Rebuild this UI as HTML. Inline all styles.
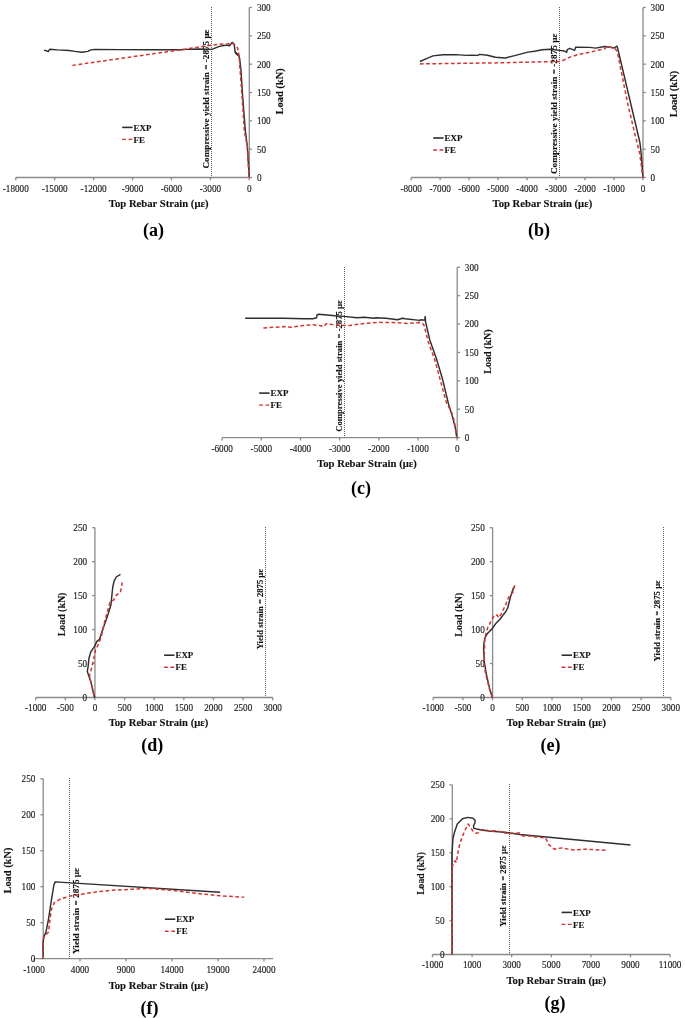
<!DOCTYPE html>
<html><head><meta charset="utf-8"><title>Figure</title>
<style>
html,body{margin:0;padding:0;background:#fff;width:685px;height:1018px;overflow:hidden}
svg{display:block;will-change:transform}
text{font-family:"Liberation Serif",serif}
</style></head><body>
<svg width="685" height="1018" viewBox="0 0 685 1018">
<rect width="685" height="1018" fill="#fff"/>
<g>
<line x1="15.75" y1="177.5" x2="249.3" y2="177.5" stroke="#8a8a8a" stroke-width="1.3"/>
<line x1="15.75" y1="177.5" x2="15.75" y2="180.3" stroke="#8a8a8a" stroke-width="1.3"/>
<text x="0" y="0" font-size="9.2" text-anchor="middle" fill="#222" stroke="#222" stroke-width="0.15" transform="translate(15.75 191.6) scale(1 1.05)">-18000</text>
<line x1="54.67" y1="177.5" x2="54.67" y2="180.3" stroke="#8a8a8a" stroke-width="1.3"/>
<text x="0" y="0" font-size="9.2" text-anchor="middle" fill="#222" stroke="#222" stroke-width="0.15" transform="translate(54.67 191.6) scale(1 1.05)">-15000</text>
<line x1="93.6" y1="177.5" x2="93.6" y2="180.3" stroke="#8a8a8a" stroke-width="1.3"/>
<text x="0" y="0" font-size="9.2" text-anchor="middle" fill="#222" stroke="#222" stroke-width="0.15" transform="translate(93.6 191.6) scale(1 1.05)">-12000</text>
<line x1="132.53" y1="177.5" x2="132.53" y2="180.3" stroke="#8a8a8a" stroke-width="1.3"/>
<text x="0" y="0" font-size="9.2" text-anchor="middle" fill="#222" stroke="#222" stroke-width="0.15" transform="translate(132.53 191.6) scale(1 1.05)">-9000</text>
<line x1="171.45" y1="177.5" x2="171.45" y2="180.3" stroke="#8a8a8a" stroke-width="1.3"/>
<text x="0" y="0" font-size="9.2" text-anchor="middle" fill="#222" stroke="#222" stroke-width="0.15" transform="translate(171.45 191.6) scale(1 1.05)">-6000</text>
<line x1="210.38" y1="177.5" x2="210.38" y2="180.3" stroke="#8a8a8a" stroke-width="1.3"/>
<text x="0" y="0" font-size="9.2" text-anchor="middle" fill="#222" stroke="#222" stroke-width="0.15" transform="translate(210.38 191.6) scale(1 1.05)">-3000</text>
<line x1="249.3" y1="177.5" x2="249.3" y2="180.3" stroke="#8a8a8a" stroke-width="1.3"/>
<text x="0" y="0" font-size="9.2" text-anchor="middle" fill="#222" stroke="#222" stroke-width="0.15" transform="translate(249.3 191.6) scale(1 1.05)">0</text>
<line x1="249.3" y1="177.5" x2="249.3" y2="7.5" stroke="#8a8a8a" stroke-width="1.3"/>
<line x1="249.3" y1="177.5" x2="252.1" y2="177.5" stroke="#8a8a8a" stroke-width="1.3"/>
<text x="0" y="0" font-size="9.2" text-anchor="start" fill="#222" stroke="#222" stroke-width="0.15" transform="translate(256.9 180.9) scale(1 1.05)">0</text>
<line x1="249.3" y1="149.17" x2="252.1" y2="149.17" stroke="#8a8a8a" stroke-width="1.3"/>
<text x="0" y="0" font-size="9.2" text-anchor="start" fill="#222" stroke="#222" stroke-width="0.15" transform="translate(256.9 152.57) scale(1 1.05)">50</text>
<line x1="249.3" y1="120.83" x2="252.1" y2="120.83" stroke="#8a8a8a" stroke-width="1.3"/>
<text x="0" y="0" font-size="9.2" text-anchor="start" fill="#222" stroke="#222" stroke-width="0.15" transform="translate(256.9 124.23) scale(1 1.05)">100</text>
<line x1="249.3" y1="92.5" x2="252.1" y2="92.5" stroke="#8a8a8a" stroke-width="1.3"/>
<text x="0" y="0" font-size="9.2" text-anchor="start" fill="#222" stroke="#222" stroke-width="0.15" transform="translate(256.9 95.9) scale(1 1.05)">150</text>
<line x1="249.3" y1="64.17" x2="252.1" y2="64.17" stroke="#8a8a8a" stroke-width="1.3"/>
<text x="0" y="0" font-size="9.2" text-anchor="start" fill="#222" stroke="#222" stroke-width="0.15" transform="translate(256.9 67.57) scale(1 1.05)">200</text>
<line x1="249.3" y1="35.83" x2="252.1" y2="35.83" stroke="#8a8a8a" stroke-width="1.3"/>
<text x="0" y="0" font-size="9.2" text-anchor="start" fill="#222" stroke="#222" stroke-width="0.15" transform="translate(256.9 39.23) scale(1 1.05)">250</text>
<line x1="249.3" y1="7.5" x2="252.1" y2="7.5" stroke="#8a8a8a" stroke-width="1.3"/>
<text x="0" y="0" font-size="9.2" text-anchor="start" fill="#222" stroke="#222" stroke-width="0.15" transform="translate(256.9 10.9) scale(1 1.05)">300</text>
<line x1="211.5" y1="7" x2="211.5" y2="177.5" stroke="#5a5a5a" stroke-width="1" stroke-dasharray="1 1"/>
<text x="158.7" y="206.9" font-size="10.67" text-anchor="middle" font-weight="bold" fill="#111" stroke="#111" stroke-width="0.12">Top Rebar Strain (&#956;&#949;)</text>
<text x="0" y="0" font-size="10.49" text-anchor="middle" font-weight="bold" fill="#111" stroke="#111" stroke-width="0.12" transform="translate(283.1 91.4) rotate(-90)">Load (kN)</text>
<text x="153.4" y="235.7" font-size="18" text-anchor="middle" font-weight="bold" fill="#000">(a)</text>
<text x="0" y="0" font-size="9.17" text-anchor="middle" font-weight="bold" fill="#111" stroke="#111" stroke-width="0.12" transform="translate(209 99) rotate(-90)">Compressive yield strain = -2875 &#956;&#949;</text>
<line x1="122.2" y1="127.4" x2="132.6" y2="127.4" stroke="#2e2e2e" stroke-width="1.6"/>
<line x1="122.2" y1="139.4" x2="132.6" y2="139.4" stroke="#d33432" stroke-width="1.35" stroke-dasharray="3.7 2.7"/>
<text x="0" y="0" font-size="8.9" text-anchor="start" font-weight="bold" fill="#111" stroke="#111" stroke-width="0.12" transform="translate(133.6 130.5) scale(1 1.02)">EXP</text>
<text x="0" y="0" font-size="8.9" text-anchor="start" font-weight="bold" fill="#111" stroke="#111" stroke-width="0.12" transform="translate(133.6 142.5) scale(1 1.02)">FE</text>
<path d="M44.1 50.3 L46.4 50.7 L48.2 51.7 L48.8 50.5 L49.9 49.3 L57.5 49.9 L69.2 50.5 L75 51.4 L82 52.3 L87.9 51.4 L90.8 49.9 L94.9 49.5 L120 49.6 L150 49.7 L180 49.8 L187 49.4 L197.5 49 L206.3 49.2 L211.5 49.4 L215 48.1 L219.4 46.4 L223.8 45.5 L228.2 45.1 L229 45.9 L230.4 44.6 L232.1 42.4 L233.4 43.3 L234.3 45.1 L235.2 52.5 L237.8 54.7 L236 53.5 L238.5 55.5 L239.5 57.8 L240.9 69.3 L242.9 100 L245.4 131.4 L247.4 147.2 L249.2 177.3" fill="none" stroke="#2e2e2e" stroke-width="1.45" stroke-linejoin="round" stroke-linecap="butt"/>
<path d="M234.6 50.4 L236.8 52.6 L238.8 55.4 L237.6 55.8 L235.6 54.2 Z" fill="#262626"/>
<path d="M72.4 65.4 L180 49.9 L206.3 46 L212.4 45.1 L219.4 44.2 L228.2 43.8 L231.7 43.3 L234.3 44.2 L236.9 46.4 L238.2 50.3 L239.3 56.9 L239.7 65.4 L241.2 85 L242.3 100 L244.4 131.4 L247.2 145.6 L249.2 177.3" fill="none" stroke="#d33432" stroke-width="1.5" stroke-linejoin="round" stroke-linecap="butt" stroke-dasharray="3.7 2.5"/>
<line x1="411.1" y1="177.5" x2="643" y2="177.5" stroke="#8a8a8a" stroke-width="1.3"/>
<line x1="411.1" y1="177.5" x2="411.1" y2="180.3" stroke="#8a8a8a" stroke-width="1.3"/>
<text x="0" y="0" font-size="9.2" text-anchor="middle" fill="#222" stroke="#222" stroke-width="0.15" transform="translate(411.1 191.6) scale(1 1.05)">-8000</text>
<line x1="440.09" y1="177.5" x2="440.09" y2="180.3" stroke="#8a8a8a" stroke-width="1.3"/>
<text x="0" y="0" font-size="9.2" text-anchor="middle" fill="#222" stroke="#222" stroke-width="0.15" transform="translate(440.09 191.6) scale(1 1.05)">-7000</text>
<line x1="469.08" y1="177.5" x2="469.08" y2="180.3" stroke="#8a8a8a" stroke-width="1.3"/>
<text x="0" y="0" font-size="9.2" text-anchor="middle" fill="#222" stroke="#222" stroke-width="0.15" transform="translate(469.08 191.6) scale(1 1.05)">-6000</text>
<line x1="498.06" y1="177.5" x2="498.06" y2="180.3" stroke="#8a8a8a" stroke-width="1.3"/>
<text x="0" y="0" font-size="9.2" text-anchor="middle" fill="#222" stroke="#222" stroke-width="0.15" transform="translate(498.06 191.6) scale(1 1.05)">-5000</text>
<line x1="527.05" y1="177.5" x2="527.05" y2="180.3" stroke="#8a8a8a" stroke-width="1.3"/>
<text x="0" y="0" font-size="9.2" text-anchor="middle" fill="#222" stroke="#222" stroke-width="0.15" transform="translate(527.05 191.6) scale(1 1.05)">-4000</text>
<line x1="556.04" y1="177.5" x2="556.04" y2="180.3" stroke="#8a8a8a" stroke-width="1.3"/>
<text x="0" y="0" font-size="9.2" text-anchor="middle" fill="#222" stroke="#222" stroke-width="0.15" transform="translate(556.04 191.6) scale(1 1.05)">-3000</text>
<line x1="585.02" y1="177.5" x2="585.02" y2="180.3" stroke="#8a8a8a" stroke-width="1.3"/>
<text x="0" y="0" font-size="9.2" text-anchor="middle" fill="#222" stroke="#222" stroke-width="0.15" transform="translate(585.02 191.6) scale(1 1.05)">-2000</text>
<line x1="614.01" y1="177.5" x2="614.01" y2="180.3" stroke="#8a8a8a" stroke-width="1.3"/>
<text x="0" y="0" font-size="9.2" text-anchor="middle" fill="#222" stroke="#222" stroke-width="0.15" transform="translate(614.01 191.6) scale(1 1.05)">-1000</text>
<line x1="643" y1="177.5" x2="643" y2="180.3" stroke="#8a8a8a" stroke-width="1.3"/>
<text x="0" y="0" font-size="9.2" text-anchor="middle" fill="#222" stroke="#222" stroke-width="0.15" transform="translate(643 191.6) scale(1 1.05)">0</text>
<line x1="643" y1="177.5" x2="643" y2="7.5" stroke="#8a8a8a" stroke-width="1.3"/>
<line x1="643" y1="177.5" x2="645.8" y2="177.5" stroke="#8a8a8a" stroke-width="1.3"/>
<text x="0" y="0" font-size="9.2" text-anchor="start" fill="#222" stroke="#222" stroke-width="0.15" transform="translate(650.6 180.9) scale(1 1.05)">0</text>
<line x1="643" y1="149.17" x2="645.8" y2="149.17" stroke="#8a8a8a" stroke-width="1.3"/>
<text x="0" y="0" font-size="9.2" text-anchor="start" fill="#222" stroke="#222" stroke-width="0.15" transform="translate(650.6 152.57) scale(1 1.05)">50</text>
<line x1="643" y1="120.83" x2="645.8" y2="120.83" stroke="#8a8a8a" stroke-width="1.3"/>
<text x="0" y="0" font-size="9.2" text-anchor="start" fill="#222" stroke="#222" stroke-width="0.15" transform="translate(650.6 124.23) scale(1 1.05)">100</text>
<line x1="643" y1="92.5" x2="645.8" y2="92.5" stroke="#8a8a8a" stroke-width="1.3"/>
<text x="0" y="0" font-size="9.2" text-anchor="start" fill="#222" stroke="#222" stroke-width="0.15" transform="translate(650.6 95.9) scale(1 1.05)">150</text>
<line x1="643" y1="64.17" x2="645.8" y2="64.17" stroke="#8a8a8a" stroke-width="1.3"/>
<text x="0" y="0" font-size="9.2" text-anchor="start" fill="#222" stroke="#222" stroke-width="0.15" transform="translate(650.6 67.57) scale(1 1.05)">200</text>
<line x1="643" y1="35.83" x2="645.8" y2="35.83" stroke="#8a8a8a" stroke-width="1.3"/>
<text x="0" y="0" font-size="9.2" text-anchor="start" fill="#222" stroke="#222" stroke-width="0.15" transform="translate(650.6 39.23) scale(1 1.05)">250</text>
<line x1="643" y1="7.5" x2="645.8" y2="7.5" stroke="#8a8a8a" stroke-width="1.3"/>
<text x="0" y="0" font-size="9.2" text-anchor="start" fill="#222" stroke="#222" stroke-width="0.15" transform="translate(650.6 10.9) scale(1 1.05)">300</text>
<line x1="559.5" y1="7" x2="559.5" y2="177.5" stroke="#5a5a5a" stroke-width="1" stroke-dasharray="1 1"/>
<text x="542.4" y="206.5" font-size="10.67" text-anchor="middle" font-weight="bold" fill="#111" stroke="#111" stroke-width="0.12">Top Rebar Strain (&#956;&#949;)</text>
<text x="0" y="0" font-size="10.58" text-anchor="middle" font-weight="bold" fill="#111" stroke="#111" stroke-width="0.12" transform="translate(677.4 94) rotate(-90)">Load (kN)</text>
<text x="538.9" y="235.7" font-size="18" text-anchor="middle" font-weight="bold" fill="#000">(b)</text>
<text x="0" y="0" font-size="9.25" text-anchor="middle" font-weight="bold" fill="#111" stroke="#111" stroke-width="0.12" transform="translate(556.6 103.9) rotate(-90)">Compressive yield strain = -2875 &#956;&#949;</text>
<line x1="433.2" y1="138" x2="443.6" y2="138" stroke="#2e2e2e" stroke-width="1.6"/>
<line x1="433.2" y1="150" x2="443.6" y2="150" stroke="#d33432" stroke-width="1.35" stroke-dasharray="3.7 2.7"/>
<text x="0" y="0" font-size="8.9" text-anchor="start" font-weight="bold" fill="#111" stroke="#111" stroke-width="0.12" transform="translate(444.6 141.1) scale(1 1.02)">EXP</text>
<text x="0" y="0" font-size="8.9" text-anchor="start" font-weight="bold" fill="#111" stroke="#111" stroke-width="0.12" transform="translate(444.6 153.1) scale(1 1.02)">FE</text>
<path d="M419.9 61.5 L427.1 58.3 L433 55.9 L442.9 54.7 L456 54.6 L466.5 55.4 L471.8 55.1 L477.7 55.4 L479.6 54.4 L487.5 55.2 L495.4 57.2 L505.5 58 L514.7 55.6 L527.9 52.1 L534.4 51.3 L542.3 49.7 L550.2 49.3 L559.4 50.4 L564.6 51 L566.6 52.3 L567.3 49.7 L569.9 48.4 L574.5 50.4 L575.8 47.1 L589.7 47.4 L595.6 48.1 L604.5 46.5 L610.4 47.2 L614 48 L617 46.2 L617.7 48.4 L639.8 142 L640.7 149 L641.7 160.3 L642.9 177.5" fill="none" stroke="#2e2e2e" stroke-width="1.45" stroke-linejoin="round" stroke-linecap="butt"/>
<path d="M419.9 63.9 L495 62.9 L558.1 61.5 L560.7 61.5 L568.6 57.6 L576.5 55 L589.7 52.1 L604.5 48.9 L606.7 46.5 L614.8 48.3 L616.5 50.5 L618 55 L623.2 81.3 L628 105 L635.9 138.2 L639.8 153.8 L642.9 177.5" fill="none" stroke="#d33432" stroke-width="1.5" stroke-linejoin="round" stroke-linecap="butt" stroke-dasharray="3.7 2.5"/>
<line x1="222.1" y1="437.6" x2="457.2" y2="437.6" stroke="#8a8a8a" stroke-width="1.3"/>
<line x1="222.1" y1="437.6" x2="222.1" y2="440.4" stroke="#8a8a8a" stroke-width="1.3"/>
<text x="0" y="0" font-size="9.2" text-anchor="middle" fill="#222" stroke="#222" stroke-width="0.15" transform="translate(222.1 451.6) scale(1 1.05)">-6000</text>
<line x1="261.28" y1="437.6" x2="261.28" y2="440.4" stroke="#8a8a8a" stroke-width="1.3"/>
<text x="0" y="0" font-size="9.2" text-anchor="middle" fill="#222" stroke="#222" stroke-width="0.15" transform="translate(261.28 451.6) scale(1 1.05)">-5000</text>
<line x1="300.47" y1="437.6" x2="300.47" y2="440.4" stroke="#8a8a8a" stroke-width="1.3"/>
<text x="0" y="0" font-size="9.2" text-anchor="middle" fill="#222" stroke="#222" stroke-width="0.15" transform="translate(300.47 451.6) scale(1 1.05)">-4000</text>
<line x1="339.65" y1="437.6" x2="339.65" y2="440.4" stroke="#8a8a8a" stroke-width="1.3"/>
<text x="0" y="0" font-size="9.2" text-anchor="middle" fill="#222" stroke="#222" stroke-width="0.15" transform="translate(339.65 451.6) scale(1 1.05)">-3000</text>
<line x1="378.83" y1="437.6" x2="378.83" y2="440.4" stroke="#8a8a8a" stroke-width="1.3"/>
<text x="0" y="0" font-size="9.2" text-anchor="middle" fill="#222" stroke="#222" stroke-width="0.15" transform="translate(378.83 451.6) scale(1 1.05)">-2000</text>
<line x1="418.02" y1="437.6" x2="418.02" y2="440.4" stroke="#8a8a8a" stroke-width="1.3"/>
<text x="0" y="0" font-size="9.2" text-anchor="middle" fill="#222" stroke="#222" stroke-width="0.15" transform="translate(418.02 451.6) scale(1 1.05)">-1000</text>
<line x1="457.2" y1="437.6" x2="457.2" y2="440.4" stroke="#8a8a8a" stroke-width="1.3"/>
<text x="0" y="0" font-size="9.2" text-anchor="middle" fill="#222" stroke="#222" stroke-width="0.15" transform="translate(457.2 451.6) scale(1 1.05)">0</text>
<line x1="457.2" y1="437.6" x2="457.2" y2="267.3" stroke="#8a8a8a" stroke-width="1.3"/>
<line x1="457.2" y1="437.6" x2="460" y2="437.6" stroke="#8a8a8a" stroke-width="1.3"/>
<text x="0" y="0" font-size="9.2" text-anchor="start" fill="#222" stroke="#222" stroke-width="0.15" transform="translate(464.8 441) scale(1 1.05)">0</text>
<line x1="457.2" y1="409.22" x2="460" y2="409.22" stroke="#8a8a8a" stroke-width="1.3"/>
<text x="0" y="0" font-size="9.2" text-anchor="start" fill="#222" stroke="#222" stroke-width="0.15" transform="translate(464.8 412.62) scale(1 1.05)">50</text>
<line x1="457.2" y1="380.83" x2="460" y2="380.83" stroke="#8a8a8a" stroke-width="1.3"/>
<text x="0" y="0" font-size="9.2" text-anchor="start" fill="#222" stroke="#222" stroke-width="0.15" transform="translate(464.8 384.23) scale(1 1.05)">100</text>
<line x1="457.2" y1="352.45" x2="460" y2="352.45" stroke="#8a8a8a" stroke-width="1.3"/>
<text x="0" y="0" font-size="9.2" text-anchor="start" fill="#222" stroke="#222" stroke-width="0.15" transform="translate(464.8 355.85) scale(1 1.05)">150</text>
<line x1="457.2" y1="324.07" x2="460" y2="324.07" stroke="#8a8a8a" stroke-width="1.3"/>
<text x="0" y="0" font-size="9.2" text-anchor="start" fill="#222" stroke="#222" stroke-width="0.15" transform="translate(464.8 327.47) scale(1 1.05)">200</text>
<line x1="457.2" y1="295.68" x2="460" y2="295.68" stroke="#8a8a8a" stroke-width="1.3"/>
<text x="0" y="0" font-size="9.2" text-anchor="start" fill="#222" stroke="#222" stroke-width="0.15" transform="translate(464.8 299.08) scale(1 1.05)">250</text>
<line x1="457.2" y1="267.3" x2="460" y2="267.3" stroke="#8a8a8a" stroke-width="1.3"/>
<text x="0" y="0" font-size="9.2" text-anchor="start" fill="#222" stroke="#222" stroke-width="0.15" transform="translate(464.8 270.7) scale(1 1.05)">300</text>
<line x1="344.5" y1="267" x2="344.5" y2="437.6" stroke="#5a5a5a" stroke-width="1" stroke-dasharray="1 1"/>
<text x="367" y="466.6" font-size="10.67" text-anchor="middle" font-weight="bold" fill="#111" stroke="#111" stroke-width="0.12">Top Rebar Strain (&#956;&#949;)</text>
<text x="0" y="0" font-size="10.03" text-anchor="middle" font-weight="bold" fill="#111" stroke="#111" stroke-width="0.12" transform="translate(491.2 351.6) rotate(-90)">Load (kN)</text>
<text x="361" y="494.3" font-size="18" text-anchor="middle" font-weight="bold" fill="#000">(c)</text>
<text x="0" y="0" font-size="8.67" text-anchor="middle" font-weight="bold" fill="#111" stroke="#111" stroke-width="0.12" transform="translate(342 366.1) rotate(-90)">Compressive yield strain = -2875 &#956;&#949;</text>
<line x1="259.2" y1="393.1" x2="269.6" y2="393.1" stroke="#2e2e2e" stroke-width="1.6"/>
<line x1="259.2" y1="405.1" x2="269.6" y2="405.1" stroke="#d33432" stroke-width="1.35" stroke-dasharray="3.7 2.7"/>
<text x="0" y="0" font-size="8.9" text-anchor="start" font-weight="bold" fill="#111" stroke="#111" stroke-width="0.12" transform="translate(270.6 396.2) scale(1 1.02)">EXP</text>
<text x="0" y="0" font-size="8.9" text-anchor="start" font-weight="bold" fill="#111" stroke="#111" stroke-width="0.12" transform="translate(270.6 408.2) scale(1 1.02)">FE</text>
<path d="M245.1 318.2 L283.8 318.2 L304.2 318.7 L313 318.7 L316.6 317.8 L317.1 314.6 L318.8 314.3 L335 315.8 L343.8 316.4 L356.9 317.8 L364.2 317.2 L374.4 318.2 L375.9 317.8 L386.1 318.2 L397.8 319.7 L402.2 318.2 L405.1 318.7 L419.7 320.4 L420.4 319.7 L424.8 320.1 L425.2 316.4 L425.5 321.6 L429.8 340 L436.7 359.6 L442.6 379.3 L448.5 403.9 L452.4 416.6 L455.4 428.4 L456.8 437.3" fill="none" stroke="#2e2e2e" stroke-width="1.45" stroke-linejoin="round" stroke-linecap="butt"/>
<path d="M263.4 328 L283.8 326.6 L291.1 327.3 L301.3 325.8 L313 324.8 L319.6 325.5 L323.9 326.6 L326.1 323.8 L332 324.5 L343.8 325.5 L349.6 325.5 L364.2 323.4 L378.8 322.3 L393.4 322.6 L408 323.4 L419.7 322.6 L422.6 323.4 L424.1 325.5 L428.3 342 L434.7 359.6 L440.6 381.3 L446.5 402.9 L451.4 411.7 L454.4 421.5 L456.8 437.3" fill="none" stroke="#d33432" stroke-width="1.5" stroke-linejoin="round" stroke-linecap="butt" stroke-dasharray="3.7 2.5"/>
<line x1="35.7" y1="697.5" x2="272.7" y2="697.5" stroke="#8a8a8a" stroke-width="1.3"/>
<line x1="35.7" y1="697.5" x2="35.7" y2="700.3" stroke="#8a8a8a" stroke-width="1.3"/>
<text x="0" y="0" font-size="9.2" text-anchor="middle" fill="#222" stroke="#222" stroke-width="0.15" transform="translate(35.7 711.2) scale(1 1.05)">-1000</text>
<line x1="65.33" y1="697.5" x2="65.33" y2="700.3" stroke="#8a8a8a" stroke-width="1.3"/>
<text x="0" y="0" font-size="9.2" text-anchor="middle" fill="#222" stroke="#222" stroke-width="0.15" transform="translate(65.33 711.2) scale(1 1.05)">-500</text>
<line x1="94.95" y1="697.5" x2="94.95" y2="700.3" stroke="#8a8a8a" stroke-width="1.3"/>
<text x="0" y="0" font-size="9.2" text-anchor="middle" fill="#222" stroke="#222" stroke-width="0.15" transform="translate(94.95 711.2) scale(1 1.05)">0</text>
<line x1="124.58" y1="697.5" x2="124.58" y2="700.3" stroke="#8a8a8a" stroke-width="1.3"/>
<text x="0" y="0" font-size="9.2" text-anchor="middle" fill="#222" stroke="#222" stroke-width="0.15" transform="translate(124.58 711.2) scale(1 1.05)">500</text>
<line x1="154.2" y1="697.5" x2="154.2" y2="700.3" stroke="#8a8a8a" stroke-width="1.3"/>
<text x="0" y="0" font-size="9.2" text-anchor="middle" fill="#222" stroke="#222" stroke-width="0.15" transform="translate(154.2 711.2) scale(1 1.05)">1000</text>
<line x1="183.82" y1="697.5" x2="183.82" y2="700.3" stroke="#8a8a8a" stroke-width="1.3"/>
<text x="0" y="0" font-size="9.2" text-anchor="middle" fill="#222" stroke="#222" stroke-width="0.15" transform="translate(183.82 711.2) scale(1 1.05)">1500</text>
<line x1="213.45" y1="697.5" x2="213.45" y2="700.3" stroke="#8a8a8a" stroke-width="1.3"/>
<text x="0" y="0" font-size="9.2" text-anchor="middle" fill="#222" stroke="#222" stroke-width="0.15" transform="translate(213.45 711.2) scale(1 1.05)">2000</text>
<line x1="243.07" y1="697.5" x2="243.07" y2="700.3" stroke="#8a8a8a" stroke-width="1.3"/>
<text x="0" y="0" font-size="9.2" text-anchor="middle" fill="#222" stroke="#222" stroke-width="0.15" transform="translate(243.07 711.2) scale(1 1.05)">2500</text>
<line x1="272.7" y1="697.5" x2="272.7" y2="700.3" stroke="#8a8a8a" stroke-width="1.3"/>
<text x="0" y="0" font-size="9.2" text-anchor="middle" fill="#222" stroke="#222" stroke-width="0.15" transform="translate(272.7 711.2) scale(1 1.05)">3000</text>
<line x1="94.95" y1="697.5" x2="94.95" y2="527.7" stroke="#8a8a8a" stroke-width="1.3"/>
<line x1="92.15" y1="697.5" x2="94.95" y2="697.5" stroke="#8a8a8a" stroke-width="1.3"/>
<text x="0" y="0" font-size="9.2" text-anchor="end" fill="#222" stroke="#222" stroke-width="0.15" transform="translate(87.15 700.9) scale(1 1.05)">0</text>
<line x1="92.15" y1="663.54" x2="94.95" y2="663.54" stroke="#8a8a8a" stroke-width="1.3"/>
<text x="0" y="0" font-size="9.2" text-anchor="end" fill="#222" stroke="#222" stroke-width="0.15" transform="translate(87.15 666.94) scale(1 1.05)">50</text>
<line x1="92.15" y1="629.58" x2="94.95" y2="629.58" stroke="#8a8a8a" stroke-width="1.3"/>
<text x="0" y="0" font-size="9.2" text-anchor="end" fill="#222" stroke="#222" stroke-width="0.15" transform="translate(87.15 632.98) scale(1 1.05)">100</text>
<line x1="92.15" y1="595.62" x2="94.95" y2="595.62" stroke="#8a8a8a" stroke-width="1.3"/>
<text x="0" y="0" font-size="9.2" text-anchor="end" fill="#222" stroke="#222" stroke-width="0.15" transform="translate(87.15 599.02) scale(1 1.05)">150</text>
<line x1="92.15" y1="561.66" x2="94.95" y2="561.66" stroke="#8a8a8a" stroke-width="1.3"/>
<text x="0" y="0" font-size="9.2" text-anchor="end" fill="#222" stroke="#222" stroke-width="0.15" transform="translate(87.15 565.06) scale(1 1.05)">200</text>
<line x1="92.15" y1="527.7" x2="94.95" y2="527.7" stroke="#8a8a8a" stroke-width="1.3"/>
<text x="0" y="0" font-size="9.2" text-anchor="end" fill="#222" stroke="#222" stroke-width="0.15" transform="translate(87.15 531.1) scale(1 1.05)">250</text>
<line x1="265.5" y1="527" x2="265.5" y2="697.5" stroke="#5a5a5a" stroke-width="1" stroke-dasharray="1 1"/>
<text x="158.5" y="726.4" font-size="10.67" text-anchor="middle" font-weight="bold" fill="#111" stroke="#111" stroke-width="0.12">Top Rebar Strain (&#956;&#949;)</text>
<text x="0" y="0" font-size="9.9" text-anchor="middle" font-weight="bold" fill="#111" stroke="#111" stroke-width="0.12" transform="translate(64.8 614.5) rotate(-90)">Load (kN)</text>
<text x="152.3" y="750.8" font-size="18" text-anchor="middle" font-weight="bold" fill="#000">(d)</text>
<text x="0" y="0" font-size="8.65" text-anchor="middle" font-weight="bold" fill="#111" stroke="#111" stroke-width="0.12" transform="translate(262.6 609.2) rotate(-90)">Yield strain = 2875 &#956;&#949;</text>
<line x1="164.1" y1="655.2" x2="174.5" y2="655.2" stroke="#2e2e2e" stroke-width="1.6"/>
<line x1="164.1" y1="667.2" x2="174.5" y2="667.2" stroke="#d33432" stroke-width="1.35" stroke-dasharray="3.7 2.7"/>
<text x="0" y="0" font-size="8.9" text-anchor="start" font-weight="bold" fill="#111" stroke="#111" stroke-width="0.12" transform="translate(175.5 658.3) scale(1 1.02)">EXP</text>
<text x="0" y="0" font-size="8.9" text-anchor="start" font-weight="bold" fill="#111" stroke="#111" stroke-width="0.12" transform="translate(175.5 670.3) scale(1 1.02)">FE</text>
<path d="M120.5 574.4 L116.2 577 L114 581.4 L112.7 587.5 L111.8 596.3 L110.9 605 L107.4 616.4 L103.9 626 L99.5 639.2 L96.9 641.4 L94.7 646.2 L90.8 651.9 L89 658 L88.1 666.8 L87.3 671.2 L88.1 673.8 L90.8 681.7 L94.3 696.5 L95 697.5" fill="none" stroke="#2e2e2e" stroke-width="1.45" stroke-linejoin="round" stroke-linecap="butt"/>
<path d="M122.3 582.3 L120.5 591.9 L116.2 595.4 L113.5 600.2 L110 602.4 L108.3 608.5 L104.8 620.8 L101.3 636.5 L98.6 644 L95.6 649.3 L93.4 660.6 L91.2 669.4 L89.4 675.5 L91.6 685.2 L94.3 696.5 L95 697.5" fill="none" stroke="#d33432" stroke-width="1.5" stroke-linejoin="round" stroke-linecap="butt" stroke-dasharray="3.7 2.5"/>
<line x1="433.2" y1="697.5" x2="670.8" y2="697.5" stroke="#8a8a8a" stroke-width="1.3"/>
<line x1="433.2" y1="697.5" x2="433.2" y2="700.3" stroke="#8a8a8a" stroke-width="1.3"/>
<text x="0" y="0" font-size="9.2" text-anchor="middle" fill="#222" stroke="#222" stroke-width="0.15" transform="translate(433.2 711.2) scale(1 1.05)">-1000</text>
<line x1="462.9" y1="697.5" x2="462.9" y2="700.3" stroke="#8a8a8a" stroke-width="1.3"/>
<text x="0" y="0" font-size="9.2" text-anchor="middle" fill="#222" stroke="#222" stroke-width="0.15" transform="translate(462.9 711.2) scale(1 1.05)">-500</text>
<line x1="492.6" y1="697.5" x2="492.6" y2="700.3" stroke="#8a8a8a" stroke-width="1.3"/>
<text x="0" y="0" font-size="9.2" text-anchor="middle" fill="#222" stroke="#222" stroke-width="0.15" transform="translate(492.6 711.2) scale(1 1.05)">0</text>
<line x1="522.3" y1="697.5" x2="522.3" y2="700.3" stroke="#8a8a8a" stroke-width="1.3"/>
<text x="0" y="0" font-size="9.2" text-anchor="middle" fill="#222" stroke="#222" stroke-width="0.15" transform="translate(522.3 711.2) scale(1 1.05)">500</text>
<line x1="552" y1="697.5" x2="552" y2="700.3" stroke="#8a8a8a" stroke-width="1.3"/>
<text x="0" y="0" font-size="9.2" text-anchor="middle" fill="#222" stroke="#222" stroke-width="0.15" transform="translate(552 711.2) scale(1 1.05)">1000</text>
<line x1="581.7" y1="697.5" x2="581.7" y2="700.3" stroke="#8a8a8a" stroke-width="1.3"/>
<text x="0" y="0" font-size="9.2" text-anchor="middle" fill="#222" stroke="#222" stroke-width="0.15" transform="translate(581.7 711.2) scale(1 1.05)">1500</text>
<line x1="611.4" y1="697.5" x2="611.4" y2="700.3" stroke="#8a8a8a" stroke-width="1.3"/>
<text x="0" y="0" font-size="9.2" text-anchor="middle" fill="#222" stroke="#222" stroke-width="0.15" transform="translate(611.4 711.2) scale(1 1.05)">2000</text>
<line x1="641.1" y1="697.5" x2="641.1" y2="700.3" stroke="#8a8a8a" stroke-width="1.3"/>
<text x="0" y="0" font-size="9.2" text-anchor="middle" fill="#222" stroke="#222" stroke-width="0.15" transform="translate(641.1 711.2) scale(1 1.05)">2500</text>
<line x1="670.8" y1="697.5" x2="670.8" y2="700.3" stroke="#8a8a8a" stroke-width="1.3"/>
<text x="0" y="0" font-size="9.2" text-anchor="middle" fill="#222" stroke="#222" stroke-width="0.15" transform="translate(670.8 711.2) scale(1 1.05)">3000</text>
<line x1="492.6" y1="697.5" x2="492.6" y2="527.7" stroke="#8a8a8a" stroke-width="1.3"/>
<line x1="489.8" y1="697.5" x2="492.6" y2="697.5" stroke="#8a8a8a" stroke-width="1.3"/>
<text x="0" y="0" font-size="9.2" text-anchor="end" fill="#222" stroke="#222" stroke-width="0.15" transform="translate(484.8 700.9) scale(1 1.05)">0</text>
<line x1="489.8" y1="663.54" x2="492.6" y2="663.54" stroke="#8a8a8a" stroke-width="1.3"/>
<text x="0" y="0" font-size="9.2" text-anchor="end" fill="#222" stroke="#222" stroke-width="0.15" transform="translate(484.8 666.94) scale(1 1.05)">50</text>
<line x1="489.8" y1="629.58" x2="492.6" y2="629.58" stroke="#8a8a8a" stroke-width="1.3"/>
<text x="0" y="0" font-size="9.2" text-anchor="end" fill="#222" stroke="#222" stroke-width="0.15" transform="translate(484.8 632.98) scale(1 1.05)">100</text>
<line x1="489.8" y1="595.62" x2="492.6" y2="595.62" stroke="#8a8a8a" stroke-width="1.3"/>
<text x="0" y="0" font-size="9.2" text-anchor="end" fill="#222" stroke="#222" stroke-width="0.15" transform="translate(484.8 599.02) scale(1 1.05)">150</text>
<line x1="489.8" y1="561.66" x2="492.6" y2="561.66" stroke="#8a8a8a" stroke-width="1.3"/>
<text x="0" y="0" font-size="9.2" text-anchor="end" fill="#222" stroke="#222" stroke-width="0.15" transform="translate(484.8 565.06) scale(1 1.05)">200</text>
<line x1="489.8" y1="527.7" x2="492.6" y2="527.7" stroke="#8a8a8a" stroke-width="1.3"/>
<text x="0" y="0" font-size="9.2" text-anchor="end" fill="#222" stroke="#222" stroke-width="0.15" transform="translate(484.8 531.1) scale(1 1.05)">250</text>
<line x1="663.5" y1="527" x2="663.5" y2="697.5" stroke="#5a5a5a" stroke-width="1" stroke-dasharray="1 1"/>
<text x="556.3" y="726.4" font-size="10.67" text-anchor="middle" font-weight="bold" fill="#111" stroke="#111" stroke-width="0.12">Top Rebar Strain (&#956;&#949;)</text>
<text x="0" y="0" font-size="9.96" text-anchor="middle" font-weight="bold" fill="#111" stroke="#111" stroke-width="0.12" transform="translate(462.1 614.7) rotate(-90)">Load (kN)</text>
<text x="550.5" y="750.8" font-size="18" text-anchor="middle" font-weight="bold" fill="#000">(e)</text>
<text x="0" y="0" font-size="8.74" text-anchor="middle" font-weight="bold" fill="#111" stroke="#111" stroke-width="0.12" transform="translate(660.2 620.8) rotate(-90)">Yield strain = 2875 &#956;&#949;</text>
<line x1="561.6" y1="655.2" x2="572" y2="655.2" stroke="#2e2e2e" stroke-width="1.6"/>
<line x1="561.6" y1="667.2" x2="572" y2="667.2" stroke="#d33432" stroke-width="1.35" stroke-dasharray="3.7 2.7"/>
<text x="0" y="0" font-size="8.9" text-anchor="start" font-weight="bold" fill="#111" stroke="#111" stroke-width="0.12" transform="translate(573 658.3) scale(1 1.02)">EXP</text>
<text x="0" y="0" font-size="8.9" text-anchor="start" font-weight="bold" fill="#111" stroke="#111" stroke-width="0.12" transform="translate(573 670.3) scale(1 1.02)">FE</text>
<path d="M513.8 587 L512 592.3 L510.3 597.5 L507.7 608 L505.9 611.5 L503.7 614.2 L500.6 618.5 L496.3 622.9 L491.9 629 L487.5 633.4 L484.9 637.8 L484 643 L483.6 648.8 L484.3 661.9 L486.5 675 L489.5 688.2 L492.4 697.5" fill="none" stroke="#2e2e2e" stroke-width="1.45" stroke-linejoin="round" stroke-linecap="butt"/>
<path d="M514.7 585.3 L512.9 592.3 L508.5 597.5 L505 606.3 L501.5 613.3 L498.9 617.7 L497.1 615 L494.5 615 L491.9 619.4 L487.5 628.2 L484.9 637.8 L484.4 650 L484.1 666.3 L486 675 L489.5 689 L492.4 697.5" fill="none" stroke="#d33432" stroke-width="1.5" stroke-linejoin="round" stroke-linecap="butt" stroke-dasharray="3.7 2.5"/>
<line x1="34" y1="958.6" x2="273.2" y2="958.6" stroke="#8a8a8a" stroke-width="1.3"/>
<line x1="34" y1="958.6" x2="34" y2="961.4" stroke="#8a8a8a" stroke-width="1.3"/>
<text x="0" y="0" font-size="9.2" text-anchor="middle" fill="#222" stroke="#222" stroke-width="0.15" transform="translate(34 972.6) scale(1 1.05)">-1000</text>
<line x1="80" y1="958.6" x2="80" y2="961.4" stroke="#8a8a8a" stroke-width="1.3"/>
<text x="0" y="0" font-size="9.2" text-anchor="middle" fill="#222" stroke="#222" stroke-width="0.15" transform="translate(80 972.6) scale(1 1.05)">4000</text>
<line x1="126" y1="958.6" x2="126" y2="961.4" stroke="#8a8a8a" stroke-width="1.3"/>
<text x="0" y="0" font-size="9.2" text-anchor="middle" fill="#222" stroke="#222" stroke-width="0.15" transform="translate(126 972.6) scale(1 1.05)">9000</text>
<line x1="172" y1="958.6" x2="172" y2="961.4" stroke="#8a8a8a" stroke-width="1.3"/>
<text x="0" y="0" font-size="9.2" text-anchor="middle" fill="#222" stroke="#222" stroke-width="0.15" transform="translate(172 972.6) scale(1 1.05)">14000</text>
<line x1="218" y1="958.6" x2="218" y2="961.4" stroke="#8a8a8a" stroke-width="1.3"/>
<text x="0" y="0" font-size="9.2" text-anchor="middle" fill="#222" stroke="#222" stroke-width="0.15" transform="translate(218 972.6) scale(1 1.05)">19000</text>
<line x1="264" y1="958.6" x2="264" y2="961.4" stroke="#8a8a8a" stroke-width="1.3"/>
<text x="0" y="0" font-size="9.2" text-anchor="middle" fill="#222" stroke="#222" stroke-width="0.15" transform="translate(264 972.6) scale(1 1.05)">24000</text>
<line x1="43.2" y1="958.6" x2="43.2" y2="778.8" stroke="#8a8a8a" stroke-width="1.3"/>
<line x1="40.4" y1="958.6" x2="43.2" y2="958.6" stroke="#8a8a8a" stroke-width="1.3"/>
<text x="0" y="0" font-size="9.2" text-anchor="end" fill="#222" stroke="#222" stroke-width="0.15" transform="translate(35.4 962) scale(1 1.05)">0</text>
<line x1="40.4" y1="922.64" x2="43.2" y2="922.64" stroke="#8a8a8a" stroke-width="1.3"/>
<text x="0" y="0" font-size="9.2" text-anchor="end" fill="#222" stroke="#222" stroke-width="0.15" transform="translate(35.4 926.04) scale(1 1.05)">50</text>
<line x1="40.4" y1="886.68" x2="43.2" y2="886.68" stroke="#8a8a8a" stroke-width="1.3"/>
<text x="0" y="0" font-size="9.2" text-anchor="end" fill="#222" stroke="#222" stroke-width="0.15" transform="translate(35.4 890.08) scale(1 1.05)">100</text>
<line x1="40.4" y1="850.72" x2="43.2" y2="850.72" stroke="#8a8a8a" stroke-width="1.3"/>
<text x="0" y="0" font-size="9.2" text-anchor="end" fill="#222" stroke="#222" stroke-width="0.15" transform="translate(35.4 854.12) scale(1 1.05)">150</text>
<line x1="40.4" y1="814.76" x2="43.2" y2="814.76" stroke="#8a8a8a" stroke-width="1.3"/>
<text x="0" y="0" font-size="9.2" text-anchor="end" fill="#222" stroke="#222" stroke-width="0.15" transform="translate(35.4 818.16) scale(1 1.05)">200</text>
<line x1="40.4" y1="778.8" x2="43.2" y2="778.8" stroke="#8a8a8a" stroke-width="1.3"/>
<text x="0" y="0" font-size="9.2" text-anchor="end" fill="#222" stroke="#222" stroke-width="0.15" transform="translate(35.4 782.2) scale(1 1.05)">250</text>
<line x1="69.5" y1="778" x2="69.5" y2="958.6" stroke="#5a5a5a" stroke-width="1" stroke-dasharray="1 1"/>
<text x="158.5" y="988.9" font-size="10.67" text-anchor="middle" font-weight="bold" fill="#111" stroke="#111" stroke-width="0.12">Top Rebar Strain (&#956;&#949;)</text>
<text x="0" y="0" font-size="10.4" text-anchor="middle" font-weight="bold" fill="#111" stroke="#111" stroke-width="0.12" transform="translate(10.6 870.6) rotate(-90)">Load (kN)</text>
<text x="149.4" y="1013.9" font-size="18" text-anchor="middle" font-weight="bold" fill="#000">(f)</text>
<text x="0" y="0" font-size="9.26" text-anchor="middle" font-weight="bold" fill="#111" stroke="#111" stroke-width="0.12" transform="translate(78.9 911) rotate(-90)">Yield strain = 2875 &#956;&#949;</text>
<line x1="164.9" y1="919.2" x2="175.3" y2="919.2" stroke="#2e2e2e" stroke-width="1.6"/>
<line x1="164.9" y1="931.2" x2="175.3" y2="931.2" stroke="#d33432" stroke-width="1.35" stroke-dasharray="3.7 2.7"/>
<text x="0" y="0" font-size="8.9" text-anchor="start" font-weight="bold" fill="#111" stroke="#111" stroke-width="0.12" transform="translate(176.3 922.3) scale(1 1.02)">EXP</text>
<text x="0" y="0" font-size="8.9" text-anchor="start" font-weight="bold" fill="#111" stroke="#111" stroke-width="0.12" transform="translate(176.3 934.3) scale(1 1.02)">FE</text>
<path d="M43.3 958.4 L42.9 945.2 L43.7 937.2 L46 931.9 L48.6 918.6 L51.3 900.9 L53.9 885 L55.2 881.9 L220.1 892.3" fill="none" stroke="#2e2e2e" stroke-width="1.45" stroke-linejoin="round" stroke-linecap="butt"/>
<path d="M43.3 958.4 L42.9 945.2 L43.7 937.2 L48.6 931.9 L49.5 923 L51.3 909.8 L54.3 902.7 L60.1 899.2 L69.8 896.1 L77.8 894.8 L86.6 893.4 L98 891.7 L112.5 890.2 L149.3 888.4 L178.2 891 L197.5 893.4 L216.5 895.5 L244.2 897.3" fill="none" stroke="#d33432" stroke-width="1.5" stroke-linejoin="round" stroke-linecap="butt" stroke-dasharray="3.7 2.5"/>
<line x1="432.5" y1="954.5" x2="670.1" y2="954.5" stroke="#8a8a8a" stroke-width="1.3"/>
<line x1="432.5" y1="954.5" x2="432.5" y2="957.3" stroke="#8a8a8a" stroke-width="1.3"/>
<text x="0" y="0" font-size="9.2" text-anchor="middle" fill="#222" stroke="#222" stroke-width="0.15" transform="translate(432.5 968.2) scale(1 1.05)">-1000</text>
<line x1="472.1" y1="954.5" x2="472.1" y2="957.3" stroke="#8a8a8a" stroke-width="1.3"/>
<text x="0" y="0" font-size="9.2" text-anchor="middle" fill="#222" stroke="#222" stroke-width="0.15" transform="translate(472.1 968.2) scale(1 1.05)">1000</text>
<line x1="511.7" y1="954.5" x2="511.7" y2="957.3" stroke="#8a8a8a" stroke-width="1.3"/>
<text x="0" y="0" font-size="9.2" text-anchor="middle" fill="#222" stroke="#222" stroke-width="0.15" transform="translate(511.7 968.2) scale(1 1.05)">3000</text>
<line x1="551.3" y1="954.5" x2="551.3" y2="957.3" stroke="#8a8a8a" stroke-width="1.3"/>
<text x="0" y="0" font-size="9.2" text-anchor="middle" fill="#222" stroke="#222" stroke-width="0.15" transform="translate(551.3 968.2) scale(1 1.05)">5000</text>
<line x1="590.9" y1="954.5" x2="590.9" y2="957.3" stroke="#8a8a8a" stroke-width="1.3"/>
<text x="0" y="0" font-size="9.2" text-anchor="middle" fill="#222" stroke="#222" stroke-width="0.15" transform="translate(590.9 968.2) scale(1 1.05)">7000</text>
<line x1="630.5" y1="954.5" x2="630.5" y2="957.3" stroke="#8a8a8a" stroke-width="1.3"/>
<text x="0" y="0" font-size="9.2" text-anchor="middle" fill="#222" stroke="#222" stroke-width="0.15" transform="translate(630.5 968.2) scale(1 1.05)">9000</text>
<line x1="670.1" y1="954.5" x2="670.1" y2="957.3" stroke="#8a8a8a" stroke-width="1.3"/>
<text x="0" y="0" font-size="9.2" text-anchor="middle" fill="#222" stroke="#222" stroke-width="0.15" transform="translate(670.1 968.2) scale(1 1.05)">11000</text>
<line x1="452.3" y1="954.5" x2="452.3" y2="784.9" stroke="#8a8a8a" stroke-width="1.3"/>
<line x1="449.5" y1="954.5" x2="452.3" y2="954.5" stroke="#8a8a8a" stroke-width="1.3"/>
<text x="0" y="0" font-size="9.2" text-anchor="end" fill="#222" stroke="#222" stroke-width="0.15" transform="translate(444.5 957.9) scale(1 1.05)">0</text>
<line x1="449.5" y1="920.58" x2="452.3" y2="920.58" stroke="#8a8a8a" stroke-width="1.3"/>
<text x="0" y="0" font-size="9.2" text-anchor="end" fill="#222" stroke="#222" stroke-width="0.15" transform="translate(444.5 923.98) scale(1 1.05)">50</text>
<line x1="449.5" y1="886.66" x2="452.3" y2="886.66" stroke="#8a8a8a" stroke-width="1.3"/>
<text x="0" y="0" font-size="9.2" text-anchor="end" fill="#222" stroke="#222" stroke-width="0.15" transform="translate(444.5 890.06) scale(1 1.05)">100</text>
<line x1="449.5" y1="852.74" x2="452.3" y2="852.74" stroke="#8a8a8a" stroke-width="1.3"/>
<text x="0" y="0" font-size="9.2" text-anchor="end" fill="#222" stroke="#222" stroke-width="0.15" transform="translate(444.5 856.14) scale(1 1.05)">150</text>
<line x1="449.5" y1="818.82" x2="452.3" y2="818.82" stroke="#8a8a8a" stroke-width="1.3"/>
<text x="0" y="0" font-size="9.2" text-anchor="end" fill="#222" stroke="#222" stroke-width="0.15" transform="translate(444.5 822.22) scale(1 1.05)">200</text>
<line x1="449.5" y1="784.9" x2="452.3" y2="784.9" stroke="#8a8a8a" stroke-width="1.3"/>
<text x="0" y="0" font-size="9.2" text-anchor="end" fill="#222" stroke="#222" stroke-width="0.15" transform="translate(444.5 788.3) scale(1 1.05)">250</text>
<line x1="509.5" y1="784" x2="509.5" y2="954.5" stroke="#5a5a5a" stroke-width="1" stroke-dasharray="1 1"/>
<text x="556.3" y="983.8" font-size="10.67" text-anchor="middle" font-weight="bold" fill="#111" stroke="#111" stroke-width="0.12">Top Rebar Strain (&#956;&#949;)</text>
<text x="0" y="0" font-size="9.73" text-anchor="middle" font-weight="bold" fill="#111" stroke="#111" stroke-width="0.12" transform="translate(424.4 873.4) rotate(-90)">Load (kN)</text>
<text x="555" y="1009.2" font-size="18" text-anchor="middle" font-weight="bold" fill="#000">(g)</text>
<text x="0" y="0" font-size="8.74" text-anchor="middle" font-weight="bold" fill="#111" stroke="#111" stroke-width="0.12" transform="translate(506 886) rotate(-90)">Yield strain = 2875 &#956;&#949;</text>
<line x1="561.6" y1="912.4" x2="572" y2="912.4" stroke="#2e2e2e" stroke-width="1.6"/>
<line x1="561.6" y1="924.4" x2="572" y2="924.4" stroke="#d33432" stroke-width="1.35" stroke-dasharray="3.7 2.7"/>
<text x="0" y="0" font-size="8.9" text-anchor="start" font-weight="bold" fill="#111" stroke="#111" stroke-width="0.12" transform="translate(573 915.5) scale(1 1.02)">EXP</text>
<text x="0" y="0" font-size="8.9" text-anchor="start" font-weight="bold" fill="#111" stroke="#111" stroke-width="0.12" transform="translate(573 927.5) scale(1 1.02)">FE</text>
<path d="M452.1 954.5 L452 900 L451.9 870 L452 853.8 L452.9 838.9 L454.6 831.9 L457.3 824 L462.5 818.8 L467.8 817.4 L473 818.3 L475.2 820.5 L474.8 823.1 L473.5 825.8 L473.9 828.4 L480 829.7 L488.8 831 L505 832.3 L520 834.5 L630.5 845" fill="none" stroke="#2e2e2e" stroke-width="1.45" stroke-linejoin="round" stroke-linecap="butt"/>
<path d="M452.2 954.5 L452.2 900 L452.1 868.7 L453.3 862.5 L455.1 860.8 L456.4 862.5 L457.7 853.8 L459.9 843.3 L462.5 836.3 L465.1 830.1 L468.2 824 L470.4 827.5 L473 831 L475.6 833.2 L478.3 832.8 L481.8 829.7 L486.2 829.7 L490.5 831.9 L494.9 830.6 L499.3 831.5 L505 832.9 L510.5 833.4 L519.3 832.9 L522.8 836 L529.8 836 L535 836.9 L545.5 837.8 L549 844.8 L554.3 849.2 L561.3 847.9 L573.6 850 L584.1 849.2 L596.4 849.7 L606 850.4" fill="none" stroke="#d33432" stroke-width="1.5" stroke-linejoin="round" stroke-linecap="butt" stroke-dasharray="3.7 2.5"/>
</g>
</svg>
</body></html>
